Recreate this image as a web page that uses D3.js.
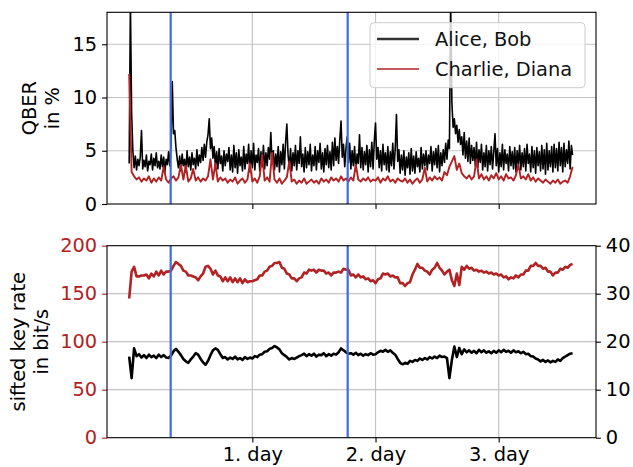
<!DOCTYPE html>
<html>
<head>
<meta charset="utf-8">
<script src="https://cdn.jsdelivr.net/npm/d3@7"></script>
<style>
  body { margin: 0; background: #fff; }
  svg, svg text { font-family: "DejaVu Sans", sans-serif; }
</style>
</head>
<body>
<script>
// series names
var seriesNames = ["Alice, Bob", "Charlie, Diana"];
var dayTicks = [1, 2, 3];
var dayLabels = ["1. day", "2. day", "3. day"];
var qberTicks = [0, 5, 10, 15];
var rateTicksLeft = [0, 50, 100, 150, 200];
var rateTicksRight = [0, 10, 20, 30, 40];
// blue marker lines, in days
var markerDays = [0.337, 1.774];

// QBER Alice/Bob, % , one value every 0.01 day
var qberAB = [
  3.8, 19, 8.5, 5.0, 3.4, 4.5, 3.2, 4.2, 3.6, 4.4,
  6.9, 3.3, 4.1, 3.5, 4.6, 3.1, 4.0, 3.7, 4.7, 3.2,
  4.3, 3.6, 4.8, 3.4, 4.0, 3.3, 4.6, 3.5, 4.4, 3.0,
  4.2, 3.7, 4.9, 3.6, 5.6, 11.5, 6.6, 6.9, 5.3, 4.2,
  3.4, 4.5, 3.1, 4.7, 3.6, 4.2, 3.0, 5.0, 3.5, 4.4,
  3.2, 4.8, 3.7, 4.3, 3.3, 5.1, 3.6, 4.6, 3.9, 5.3,
  4.1, 5.6, 4.4, 5.8, 6.5, 8.0, 5.2, 6.2, 4.3, 5.4,
  3.5, 4.9, 3.3, 5.2, 3.8, 4.5, 3.1, 5.0, 3.6, 4.7,
  4.0, 5.3, 3.2, 4.6, 3.0, 5.5, 3.4, 4.8, 2.9, 5.1,
  3.6, 4.4, 3.1, 5.4, 3.3, 4.7, 3.8, 5.6, 3.0, 5.0,
  3.4, 5.7, 3.2, 4.6, 3.9, 5.2, 3.1, 4.9, 3.5, 5.5,
  3.3, 4.8, 3.6, 5.3, 4.2, 6.7, 3.9, 5.0, 3.2, 4.7,
  3.5, 5.4, 3.0, 4.9, 3.7, 5.6, 3.3, 5.8, 7.5, 4.6,
  3.4, 5.2, 3.1, 4.8, 3.6, 5.5, 3.2, 5.0, 3.8, 6.3,
  3.5, 4.7, 3.0, 5.3, 3.4, 4.9, 3.7, 5.6, 3.1, 4.6,
  3.6, 5.4, 3.2, 5.0, 3.9, 5.7, 3.3, 4.8, 3.0, 5.2,
  3.7, 5.5, 3.4, 4.9, 3.2, 5.8, 3.6, 6.2, 4.1, 5.4,
  3.8, 6.0, 7.8, 4.4, 5.6, 3.5, 5.2, 6.3, 3.9, 5.7,
  3.3, 5.0, 3.6, 5.4, 3.1, 4.7, 3.8, 6.5, 3.4, 5.3,
  3.2, 4.9, 3.7, 5.5, 3.0, 5.1, 3.5, 5.8, 3.3, 5.9,
  7.6, 4.2, 5.3, 3.4, 5.0, 3.1, 5.6, 3.7, 4.8, 3.2,
  5.4, 3.0, 4.9, 3.6, 5.7, 3.3, 5.2, 8.4, 4.0, 5.1,
  2.9, 4.6, 3.2, 5.0, 2.7, 4.4, 3.4, 4.8, 2.8, 5.2,
  3.1, 4.5, 2.9, 4.9, 3.5, 4.3, 3.0, 5.3, 3.3, 4.7,
  3.6, 5.0, 3.2, 4.6, 3.8, 5.4, 3.1, 4.9, 3.7, 5.2,
  3.4, 5.5, 3.0, 4.8, 3.6, 5.1, 3.9, 5.7, 4.2, 6.0,
  5.2, 19, 9.5, 7.2, 8.0, 6.6, 7.4, 5.8, 7.0, 5.6,
  6.3, 4.6, 6.7, 4.3, 5.9, 4.0, 6.2, 3.8, 5.5, 4.1,
  5.3, 3.6, 5.8, 3.4, 5.1, 3.9, 5.6, 3.2, 4.8, 3.5,
  5.5, 3.1, 5.0, 3.7, 5.4, 3.3, 4.9, 6.6, 3.6, 5.2,
  3.0, 4.8, 3.5, 5.6, 3.2, 5.1, 3.8, 4.7, 3.1, 5.4,
  3.6, 4.9, 3.3, 5.3, 3.0, 5.0, 3.7, 5.5, 3.2, 4.8,
  3.5, 5.2, 3.1, 5.6, 3.8, 4.7, 3.0, 5.4, 3.4, 5.0,
  2.9, 5.3, 3.6, 4.9, 3.1, 5.5, 3.3, 5.1, 2.8, 5.7,
  3.2, 5.0, 3.5, 5.4, 3.0, 5.6, 3.4, 5.2, 3.1, 5.8,
  3.6, 5.3, 3.0, 5.7, 3.5, 5.1, 3.8, 5.9, 3.3, 5.5,
  4.6
];

// QBER Charlie/Diana, %, one value every 0.02 day
var qberCD = [
  12.2, 3.0, 2.6, 2.3, 2.5, 2.1, 2.4, 2.2, 2.6, 2.0,
  2.4, 2.1, 2.5, 2.2, 3.5, 2.3, 2.0, 2.4, 2.6, 2.2,
  2.5, 3.7, 2.3, 3.6, 2.1, 2.4, 3.3, 2.2, 2.5, 2.1,
  2.4, 2.2, 2.6, 4.2, 2.3, 3.8, 2.1, 2.5, 2.2, 2.4,
  2.0, 2.3, 2.1, 2.5, 1.9, 2.2, 2.4, 2.0, 2.3, 3.8,
  2.1, 2.4, 2.0, 2.6, 4.6, 2.2, 2.5, 2.1, 4.8, 2.3,
  2.0, 2.4, 1.9, 2.2, 2.5, 4.0, 2.1, 2.3, 1.9, 2.2,
  2.0, 2.4, 1.9, 2.1, 2.3, 2.0, 2.2, 1.9, 2.4, 2.1,
  2.3, 2.0, 2.5, 2.2, 2.4, 2.1, 2.6, 2.2, 2.4, 2.1,
  2.5, 2.2, 3.7, 2.3, 2.1, 2.4, 2.2, 2.5, 2.1, 2.3,
  2.2, 2.5, 2.0, 2.4, 2.2, 2.6, 2.1, 2.3, 2.0, 2.4,
  2.2, 2.1, 2.4, 2.0, 2.3, 1.9, 2.2, 2.4, 2.0, 2.3,
  3.4, 2.1, 2.5, 2.2, 2.6, 2.3, 2.5, 2.2, 3.0, 2.7,
  3.5, 4.0, 4.5, 3.2, 3.8, 2.9, 2.6, 2.4, 2.7, 2.3,
  2.6, 4.2, 2.4, 2.8, 2.3, 2.6, 2.2, 2.7, 2.4, 2.9,
  2.3, 2.6, 2.2, 2.8, 2.4, 2.5, 2.2, 2.7, 3.7, 2.4,
  2.6, 2.3, 2.8, 2.2, 2.5, 2.1, 2.4, 2.2, 2.0, 2.3,
  2.1, 1.9, 2.2, 2.0, 2.3, 1.9, 2.1, 2.2, 2.0, 2.6,
  3.5
];

// sifted key rate Charlie/Diana, bit/s (left axis), every 0.02 day
var rateCD = [
  145, 173, 178, 168, 168, 169, 169, 170, 166, 171,
  168, 173, 169, 174, 170, 173, 173, 174, 179, 183,
  181, 179, 174, 173, 169, 169, 168, 167, 164, 168,
  171, 178, 179, 176, 170, 174, 169, 168, 163, 167,
  163, 167, 162, 166, 162, 166, 161, 165, 162, 163,
  163, 164, 165, 169, 169, 173, 174, 178, 179, 182,
  182, 183, 177, 176, 171, 170, 166, 166, 163, 166,
  167, 172, 171, 175, 174, 175, 172, 175, 174, 174,
  171, 172, 169, 172, 172, 173, 172, 176, 175, 175,
  169, 170, 167, 170, 167, 168, 165, 166, 163, 164,
  161, 165, 166, 171, 170, 171, 168, 169, 167, 167,
  161, 161, 158, 161, 162, 170, 175, 181, 177, 177,
  174, 173, 170, 175, 177, 182, 177, 174, 170, 173,
  175, 164, 158, 171, 159, 178, 175, 179, 176, 177,
  174, 175, 173, 174, 172, 173, 171, 172, 170, 171,
  169, 170, 167, 168, 165, 167, 166, 169, 167, 170,
  170, 174, 174, 179, 179, 182, 179, 179, 176, 177,
  173, 173, 169, 172, 172, 176, 175, 178, 177, 180,
  181
];

// sifted key rate Alice/Bob, bit/s (right axis), every 0.02 day
var rateAB = [
  16.9, 12.4, 18.6, 17.0, 17.4, 16.7, 17.2, 16.6, 17.3, 16.8,
  17.1, 16.6, 17.3, 16.8, 17.2, 16.7, 16.6, 17.1, 18.0, 18.5,
  17.9, 17.2, 16.4, 15.9, 15.6, 16.3, 16.9, 17.6, 17.3, 16.4,
  15.7, 15.2, 16.0, 17.2, 18.2, 18.6, 18.3, 17.4, 16.6, 16.8,
  16.3, 16.7, 16.4, 16.9, 16.3, 16.6, 16.2, 16.8, 16.4, 16.7,
  16.5, 17.0, 16.8, 17.3, 17.4, 17.9, 18.0, 18.5, 18.7, 19.1,
  18.8, 18.4, 17.6, 17.2, 16.8, 16.3, 16.6, 16.4, 16.7, 17.0,
  17.2, 17.5, 17.0, 17.4, 17.1, 17.5, 16.9, 17.3, 17.2, 17.6,
  17.0, 17.4, 17.1, 17.5, 17.3, 17.8, 18.6, 18.2, 17.8, 17.5,
  17.6, 17.3, 17.7, 17.2, 17.5, 17.1, 17.4, 17.2, 17.6, 17.3,
  17.4, 17.8, 18.1, 17.9, 18.3, 17.9, 18.2, 17.7, 17.3, 16.4,
  15.6, 15.3, 15.6, 15.4, 16.0, 15.8, 16.2, 16.0, 16.5, 16.2,
  16.6, 16.3, 16.8, 16.5, 16.9, 16.6, 17.1, 16.8, 16.9, 16.6,
  12.4, 16.2, 19.0, 16.8, 18.7, 17.4, 18.4, 17.8, 18.2, 17.7,
  18.1, 17.6, 18.3, 17.8, 18.2, 17.7, 18.0, 17.6, 18.1, 17.7,
  18.2, 17.8, 18.3, 17.9, 18.1, 17.7, 18.2, 17.8, 18.0, 17.6,
  17.9, 17.4, 17.5, 17.0, 16.9, 16.5, 16.3, 15.9, 16.2, 15.8,
  16.1, 15.7, 16.0, 15.8, 16.3, 16.0, 16.6, 16.9, 17.2, 17.5,
  17.6
];

var w = 633;
var h = 467;
var black = "#000000";
var red = "#b22222";
var blue = "#4169e1";
var gridColor = "#c4c4c4";
var fontFamily = "'DejaVu Sans', sans-serif";
var fontSize = 19.4;
var tickLen = 4.9;

// axes boxes
var left = 107, right = 596;
var top1 = 12.3, bottom1 = 204;
var top2 = 245.7, bottom2 = 437.7;

var x = d3.scaleLinear().domain([-0.18, 3.79]).range([left, right]);
var yQ = d3.scaleLinear().domain([0, 18]).range([bottom1, top1]);
var yL = d3.scaleLinear().domain([0, 200]).range([bottom2, top2]);
var yR = d3.scaleLinear().domain([0, 40]).range([bottom2, top2]);

var svg = d3.select("body")
            .append("svg")
            .attr("width", w)
            .attr("height", h)
            .attr("font-family", fontFamily);

var defs = svg.append("defs");
defs.append("clipPath").attr("id", "clip1")
    .append("rect").attr("x", left).attr("y", top1)
    .attr("width", right - left).attr("height", bottom1 - top1);
defs.append("clipPath").attr("id", "clip2")
    .append("rect").attr("x", left).attr("y", top2)
    .attr("width", right - left).attr("height", bottom2 - top2);

function grid(g, yScale, yTicks, y0, y1) {
    g.selectAll(".vgrid")
        .data(dayTicks)
        .enter()
        .append("line")
        .attr("x1", d => x(d)).attr("x2", d => x(d))
        .attr("y1", y0).attr("y2", y1)
        .attr("stroke", gridColor).attr("stroke-width", 1.2);
    g.selectAll(".hgrid")
        .data(yTicks)
        .enter()
        .append("line")
        .attr("x1", left).attr("x2", right)
        .attr("y1", d => yScale(d)).attr("y2", d => yScale(d))
        .attr("stroke", gridColor).attr("stroke-width", 1.2);
}

function drawLine(g, values, step, yScale, color, width) {
    var line = d3.line()
        .x((d, i) => x(i * step))
        .y(d => yScale(d));
    g.append("path")
        .datum(values)
        .attr("d", line)
        .attr("fill", "none")
        .attr("stroke", color)
        .attr("stroke-width", width)
        .attr("stroke-linejoin", "round");
}

function markers(g, y0, y1) {
    g.selectAll(".marker")
        .data(markerDays)
        .enter()
        .append("line")
        .attr("x1", d => x(d)).attr("x2", d => x(d))
        .attr("y1", y0).attr("y2", y1)
        .attr("stroke", blue).attr("stroke-width", 2.2);
}

function styleAxis(g, color) {
    g.attr("font-family", fontFamily).attr("font-size", fontSize);
    g.select(".domain").remove();
    g.selectAll(".tick line").attr("stroke", black).attr("stroke-width", 1.1);
    g.selectAll(".tick text").attr("fill", color);
}

function frame(y0, y1) {
    svg.append("rect")
        .attr("x", left).attr("y", y0)
        .attr("width", right - left).attr("height", y1 - y0)
        .attr("fill", "none")
        .attr("stroke", black)
        .attr("stroke-width", 1.1);
}

//--- top panel: QBER
var qberPanel = svg.append("g");
grid(qberPanel, yQ, qberTicks.slice(1), top1, bottom1);
var qberData = qberPanel.append("g").attr("clip-path", "url(#clip1)");
drawLine(qberData, qberAB, 0.01, yQ, black, 1.6);
drawLine(qberData, qberCD, 0.02, yQ, red, 1.9);
markers(qberData, top1, bottom1);

// legend
var legend = svg.append("g");
legend.append("rect")
    .attr("x", 370).attr("y", 22.7)
    .attr("width", 215).attr("height", 65)
    .attr("rx", 4)
    .attr("fill", "white").attr("fill-opacity", 0.8)
    .attr("stroke", "#cccccc").attr("stroke-width", 1);
legend.selectAll(".handle")
    .data(seriesNames)
    .enter()
    .append("line")
    .attr("x1", 377).attr("x2", 419)
    .attr("y1", (d, i) => 39 + i * 30).attr("y2", (d, i) => 39 + i * 30)
    .attr("stroke", (d, i) => i === 0 ? "#333333" : red)
    .attr("stroke-width", (d, i) => i === 0 ? 2.4 : 1.4);
legend.selectAll(".label")
    .data(seriesNames)
    .enter()
    .append("text")
    .attr("x", 435)
    .attr("y", (d, i) => 46 + i * 30)
    .attr("font-size", fontSize)
    .attr("fill", "#111")
    .text(d => d);

var xTop = svg.append("g")
    .attr("transform", "translate(0," + bottom1 + ")")
    .call(d3.axisBottom(x).tickValues(dayTicks).tickSize(tickLen).tickFormat(""));
styleAxis(xTop, black);

var yTop = svg.append("g")
    .attr("transform", "translate(" + left + ",0)")
    .call(d3.axisLeft(yQ).tickValues(qberTicks).tickSize(tickLen).tickPadding(tickLen));
styleAxis(yTop, black);
frame(top1, bottom1);

// y label top
var lab1 = svg.append("text")
    .attr("transform", "translate(0," + ((top1 + bottom1) / 2) + ") rotate(-90)")
    .attr("text-anchor", "middle")
    .attr("font-size", fontSize);
lab1.append("tspan").attr("x", 0).attr("y", 36).text("QBER");
lab1.append("tspan").attr("x", 0).attr("y", 59).text("in %");

//--- bottom panel: sifted key rate
var ratePanel = svg.append("g");
grid(ratePanel, yL, rateTicksLeft.slice(1, 4), top2, bottom2);
var rateData = ratePanel.append("g").attr("clip-path", "url(#clip2)");
drawLine(rateData, rateCD, 0.02, yL, red, 2.6);
drawLine(rateData, rateAB, 0.02, yR, black, 2.6);
markers(rateData, top2, bottom2);

var xBot = svg.append("g")
    .attr("transform", "translate(0," + bottom2 + ")")
    .call(d3.axisBottom(x).tickValues(dayTicks).tickSize(tickLen).tickPadding(tickLen)
        .tickFormat((d, i) => dayLabels[i]));
styleAxis(xBot, black);

var yBotL = svg.append("g")
    .attr("transform", "translate(" + left + ",0)")
    .call(d3.axisLeft(yL).tickValues(rateTicksLeft).tickSize(tickLen).tickPadding(tickLen));
styleAxis(yBotL, red);
yBotL.selectAll(".tick line").attr("stroke", red);

var yBotR = svg.append("g")
    .attr("transform", "translate(" + right + ",0)")
    .call(d3.axisRight(yR).tickValues(rateTicksRight).tickSize(tickLen).tickPadding(tickLen));
styleAxis(yBotR, black);
frame(top2, bottom2);

var lab2 = svg.append("text")
    .attr("transform", "translate(0," + ((top2 + bottom2) / 2) + ") rotate(-90)")
    .attr("text-anchor", "middle")
    .attr("font-size", fontSize);
lab2.append("tspan").attr("x", 0).attr("y", 25).text("sifted key rate");
lab2.append("tspan").attr("x", 0).attr("y", 48).text("in bit/s");
</script>
</body>
</html>
